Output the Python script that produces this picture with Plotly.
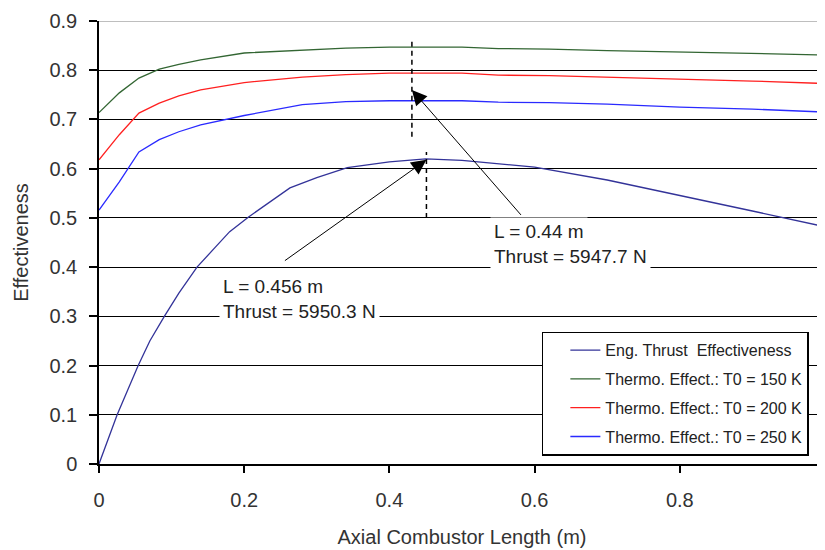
import plotly.graph_objects as go

# ---- data ----
eng_x = [0, 0.01, 0.025, 0.04, 0.054, 0.07, 0.09, 0.11, 0.135, 0.16, 0.18, 0.206, 0.23,
         0.263, 0.3, 0.342, 0.4, 0.45, 0.5, 0.55, 0.6, 0.7, 0.8, 0.9, 1.0]
eng_y = [0, 0.04, 0.1, 0.152, 0.2, 0.25, 0.3, 0.347, 0.4, 0.44, 0.472, 0.502, 0.527,
         0.561, 0.582, 0.602, 0.614, 0.620, 0.617, 0.610, 0.603, 0.577, 0.546, 0.514, 0.482]

thermo_x = [0, 0.028, 0.055, 0.083, 0.11, 0.14, 0.2, 0.28, 0.34, 0.4, 0.5, 0.55, 0.62,
            0.7, 0.8, 0.9, 1.0]
thermo_150 = [0.714, 0.754, 0.784, 0.802, 0.812, 0.821, 0.835, 0.841, 0.845, 0.847, 0.847,
              0.844, 0.843, 0.840, 0.837, 0.835, 0.831]
thermo_200 = [0.618, 0.669, 0.713, 0.733, 0.748, 0.760, 0.775, 0.786, 0.791, 0.794, 0.794,
              0.790, 0.789, 0.786, 0.782, 0.778, 0.773]
thermo_250 = [0.516, 0.573, 0.634, 0.659, 0.675, 0.689, 0.708, 0.730, 0.736, 0.738, 0.738,
              0.735, 0.734, 0.731, 0.725, 0.721, 0.715]

series_names = ["Eng. Thrust  Effectiveness", "Thermo. Effect.: T0 = 150 K",
                "Thermo. Effect.: T0 = 200 K", "Thermo. Effect.: T0 = 250 K"]
series_colors = ["#333399", "#336633", "#ff2020", "#2a2aff"]

x_ticks = [0, 0.2, 0.4, 0.6, 0.8, 1]
x_ticktext = ["0", "0.2", "0.4", "0.6", "0.8", "1"]
y_ticks = [0, 0.1, 0.2, 0.3, 0.4, 0.5, 0.6, 0.7, 0.8, 0.9]
y_ticktext = ["0", "0.1", "0.2", "0.3", "0.4", "0.5", "0.6", "0.7", "0.8", "0.9"]

# optimum markers (L, effectiveness tip, text)
opt_thermo = dict(L=0.431, tip=0.760, tail_x=0.583, tail_y=0.503, dash_lo=0.665, dash_hi=0.866,
                  lines=["L = 0.44 m", "Thrust = 5947.7 N"], text_x=0.538, text_y=[0.472, 0.421])
opt_eng = dict(L=0.451, tip=0.618, tail_x=0.254, tail_y=0.411, dash_lo=0.500, dash_hi=0.634,
               lines=["L = 0.456 m", "Thrust = 5950.3 N"], text_x=0.165, text_y=[0.360, 0.309])

FONT = "Liberation Sans, Arial, sans-serif"

fig = go.Figure()
all_x = [eng_x, thermo_x, thermo_x, thermo_x]
all_y = [eng_y, thermo_150, thermo_200, thermo_250]
for i, (xs, ys) in enumerate(zip(all_x, all_y)):
    fig.add_trace(go.Scatter(x=xs, y=ys, mode="lines", name=series_names[i],
                             line=dict(color=series_colors[i], width=1.3),
                             legendgroup=f"g{i}"))

shapes = []
for o in (opt_thermo, opt_eng):
    shapes.append(dict(type="line", xref="x", yref="y", x0=o["L"], x1=o["L"],
                       y0=o["dash_lo"], y1=o["dash_hi"],
                       line=dict(color="black", width=1.5, dash="5px,4px")))
# top (0.9) gridline is grey in the reference
shapes.append(dict(type="line", xref="paper", yref="y", x0=0, x1=1, y0=0.9, y1=0.9,
                   line=dict(color="#a8a8a8", width=1.5), layer="above"))

annotations = []
for o in (opt_thermo, opt_eng):
    annotations.append(dict(x=o["L"], y=o["tip"], xref="x", yref="y",
                            ax=o["tail_x"], ay=o["tail_y"], axref="x", ayref="y",
                            text="", showarrow=True, arrowhead=2, arrowsize=3,
                            arrowwidth=1, arrowcolor="black", standoff=0))
    for line_txt, ty in zip(o["lines"], o["text_y"]):
        annotations.append(dict(x=o["text_x"], y=ty, xref="x", yref="y", text=line_txt,
                                showarrow=False, xanchor="left", yanchor="middle",
                                font=dict(family=FONT, size=19, color="#222222"),
                                bgcolor="white", borderpad=3))

fig.update_layout(
    width=817, height=542,
    margin=dict(l=91, r=0, t=13, b=86, autoexpand=False),
    paper_bgcolor="white", plot_bgcolor="white",
    font=dict(family=FONT, color="#222222"),
    showlegend=True,
    legend=dict(x=0.610, y=0.2987, xanchor="left", yanchor="top",
                bgcolor="white", bordercolor="black", borderwidth=1.5,
                font=dict(family=FONT, size=16, color="#222222"),
                tracegroupgap=5, indentation=22, traceorder="grouped"),
    shapes=shapes,
    annotations=annotations,
)
fig.update_xaxes(range=[0, 1], tickvals=x_ticks, ticktext=x_ticktext, automargin=False,
                 showgrid=False, zeroline=False, showline=True, linecolor="black",
                 linewidth=1.5, ticks="outside", ticklen=7, tickwidth=1.5, tickcolor="black",
                 tickfont=dict(family=FONT, size=20, color="#333333"), ticklabelstandoff=10,
                 title=dict(text="Axial Combustor Length (m)", standoff=20,
                            font=dict(family=FONT, size=20, color="#333333")))
fig.update_yaxes(range=[0, 0.9], tickvals=y_ticks, ticktext=y_ticktext, automargin=False,
                 showgrid=True, gridcolor="black", gridwidth=1.3, zeroline=False,
                 showline=True, linecolor="black", linewidth=1.5,
                 ticks="outside", ticklen=8, tickwidth=1.5, tickcolor="black",
                 tickfont=dict(family=FONT, size=20, color="#333333"), ticklabelstandoff=8,
                 title=dict(text="Effectiveness", standoff=15,
                            font=dict(family=FONT, size=20, color="#333333")))

fig.write_html("out.html")
